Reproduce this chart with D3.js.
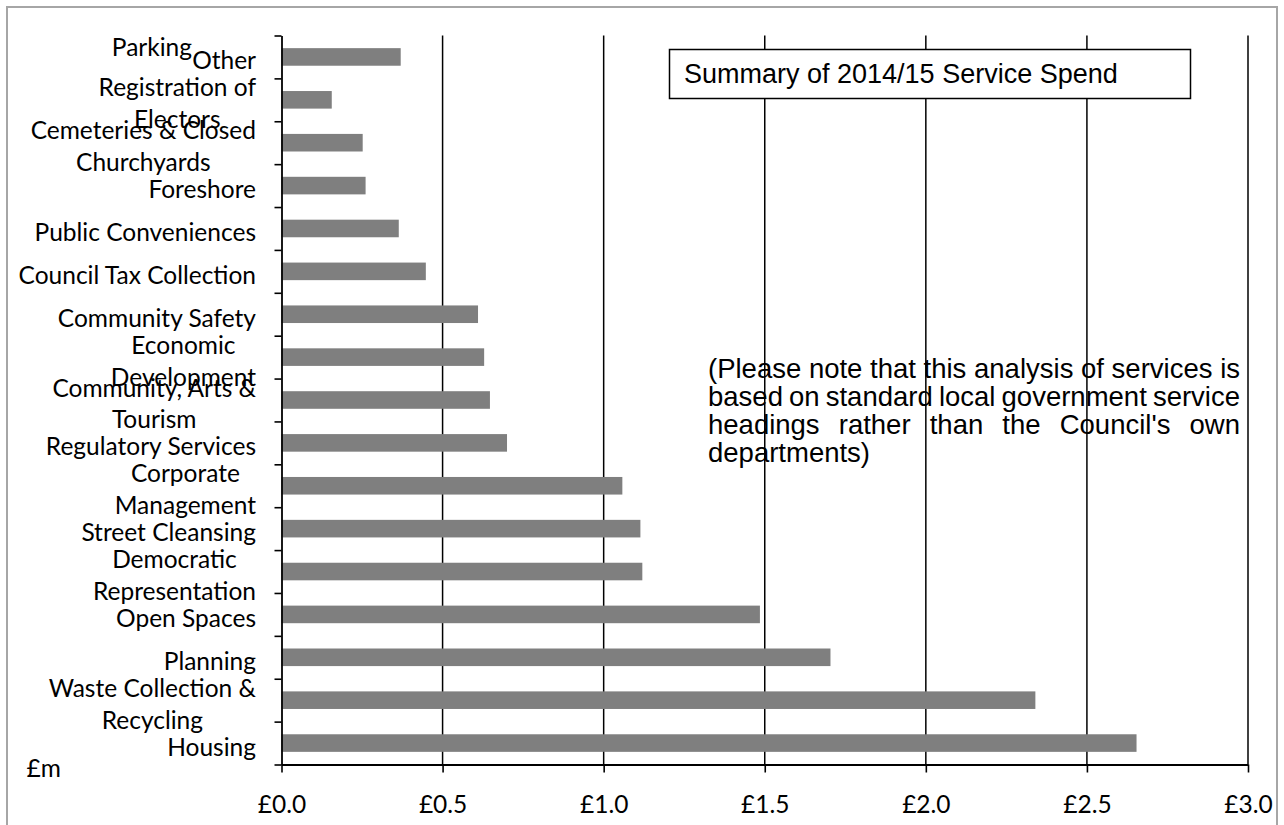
<!DOCTYPE html>
<html>
<head>
<meta charset="utf-8">
<script src="https://cdn.jsdelivr.net/npm/d3@7"></script>
<style>
  body { margin: 0; background: #fff; }
  svg { display: block; }
</style>
</head>
<body>
<svg id="chart" width="1284" height="825"></svg>
<script>
// Service headings, listed from the bottom of the chart upwards
const categories = [
  "Housing", "Waste Collection & Recycling", "Planning", "Open Spaces",
  "Democratic Representation", "Street Cleansing", "Corporate Management",
  "Regulatory Services", "Community, Arts & Tourism", "Economic Development",
  "Community Safety", "Council Tax Collection", "Public Conveniences",
  "Foreshore", "Cemeteries & Closed Churchyards", "Registration of Electors", "Other"
];
// How each heading wraps on the category axis
const categoryLines = [
  ["Housing"], ["Waste Collection &", "Recycling"], ["Planning"], ["Open Spaces"],
  ["Democratic", "Representation"], ["Street Cleansing"], ["Corporate", "Management"],
  ["Regulatory Services"], ["Community, Arts &", "Tourism"], ["Economic", "Development"],
  ["Community Safety"], ["Council Tax Collection"], ["Public Conveniences"],
  ["Foreshore"], ["Cemeteries & Closed", "Churchyards"], ["Registration of", "Electors"], ["Other"]
];
// Spend per service, £m
const spend = [
  2.654, 2.340, 1.704, 1.485, 1.120, 1.114, 1.058, 0.700, 0.647, 0.629,
  0.610, 0.448, 0.364, 0.261, 0.252, 0.156, 0.370
];
const xTicks = [0, 0.5, 1.0, 1.5, 2.0, 2.5, 3.0];
const xTickLabels = ["£0.0", "£0.5", "£1.0", "£1.5", "£2.0", "£2.5", "£3.0"];
const unitLabel = "£m";
const extraAxisLabel = "Parking";
const titleText = "Summary of 2014/15 Service Spend";
const noteLines = [
  "(Please note that this analysis of services is",
  "based on standard local government service",
  "headings rather than the Council's own",
  "departments)"
];

const svg = d3.select("#chart");
const plot = { left: 281.5, right: 1248, top: 35.5, bottom: 764.5 };
const labelFont = "Lato, 'Open Sans', sans-serif";
const labelSize = 24.5;
const textFont = "'Liberation Sans', Arial, sans-serif";

// Outer chart border
svg.append("rect")
  .attr("x", 7).attr("y", 7).attr("width", 1270).attr("height", 840)
  .attr("fill", "#fff").attr("stroke", "#a6a6a6").attr("stroke-width", 2);

const x = d3.scaleLinear().domain([0, 3]).range([plot.left, plot.right]);
const y = d3.scaleBand()
  .domain(categories.slice().reverse())
  .range([plot.top, plot.bottom])
  .paddingInner(0.59)
  .paddingOuter(0.295);

// Vertical gridlines
svg.append("g").selectAll("line")
  .data(xTicks.filter(d => d > 0))
  .join("line")
  .attr("x1", d => x(d)).attr("x2", d => x(d))
  .attr("y1", plot.top).attr("y2", plot.bottom)
  .attr("stroke", "#000").attr("stroke-width", 1.5);

// Bars
svg.append("g").selectAll("rect")
  .data(categories.map((c, i) => ({ c, v: spend[i] })))
  .join("rect")
  .attr("x", x(0))
  .attr("y", d => y(d.c))
  .attr("width", d => x(d.v) - x(0))
  .attr("height", y.bandwidth())
  .attr("fill", "#7f7f7f");

// Category axis: line with ticks on the band boundaries
const yEdges = d3.scaleLinear().domain([0, categories.length]).range([plot.top, plot.bottom]);
const yAxis = svg.append("g")
  .attr("transform", `translate(${plot.left},0)`)
  .call(d3.axisLeft(yEdges).tickValues(d3.range(categories.length + 1)).tickFormat("").tickSize(7).tickSizeOuter(0));
yAxis.select(".domain").attr("stroke", "#000").attr("stroke-width", 1.8);
yAxis.selectAll(".tick line").attr("stroke", "#000").attr("stroke-width", 1.6);

// Value axis
const xAxis = svg.append("g")
  .attr("transform", `translate(0,${plot.bottom})`)
  .call(d3.axisBottom(x).tickValues(xTicks).tickFormat((d, i) => xTickLabels[i]).tickSize(8).tickSizeOuter(0));
xAxis.select(".domain").attr("stroke", "#000").attr("stroke-width", 1.8);
xAxis.selectAll(".tick line").attr("stroke", "#000").attr("stroke-width", 1.6);
xAxis.selectAll(".tick text")
  .attr("y", 48.5).attr("dy", null)
  .attr("font-family", labelFont).attr("font-size", labelSize).attr("fill", "#000");

// Category labels: wrapped lines centred within a right-aligned block
const labelRight = plot.left - 25.5;
const lineGap = 31.8;
const labelGroup = svg.append("g")
  .attr("font-family", labelFont).attr("font-size", labelSize).attr("fill", "#000");
categories.forEach((c, i) => {
  const lines = categoryLines[i];
  const cy = y(c) + y.bandwidth() / 2;
  const base = cy + 12.5 - (lines.length - 1) * lineGap / 2;
  const texts = lines.map((ln, k) => labelGroup.append("text")
    .attr("y", base + k * lineGap).text(ln));
  const maxW = d3.max(texts, t => t.node().getComputedTextLength());
  texts.forEach(t => t.attr("x", labelRight - maxW / 2).attr("text-anchor", "middle"));
});
// Stray heading beside the top label
const topCy = y(categories[categories.length - 1]) + y.bandwidth() / 2;
labelGroup.append("text")
  .attr("x", labelRight - 64).attr("y", topCy - 1)
  .attr("text-anchor", "end").text(extraAxisLabel);

// Unit label
svg.append("text")
  .attr("x", 26.5).attr("y", 777)
  .attr("font-family", labelFont).attr("font-size", labelSize).attr("fill", "#000")
  .text(unitLabel);

// Title box
svg.append("rect")
  .attr("x", 669.5).attr("y", 49.5).attr("width", 521).attr("height", 49)
  .attr("fill", "#fff").attr("stroke", "#000").attr("stroke-width", 1.5);
svg.append("text")
  .attr("x", 684).attr("y", 83)
  .attr("font-family", textFont).attr("font-size", 27).attr("fill", "#000")
  .text(titleText);

// Justified note (last line left aligned)
const noteLeft = 708, noteRight = 1240, noteTop = 378, noteStep = 28;
const noteGroup = svg.append("g")
  .attr("font-family", textFont).attr("font-size", 27.5).attr("fill", "#000");
noteLines.forEach((ln, li) => {
  const yy = noteTop + li * noteStep;
  const words = ln.split(" ");
  const nodes = words.map(w => noteGroup.append("text").attr("y", yy).text(w));
  const widths = nodes.map(n => n.node().getComputedTextLength());
  const last = li === noteLines.length - 1;
  const spaceW = 7.6;
  const gap = last || words.length < 2
    ? spaceW
    : (noteRight - noteLeft - d3.sum(widths)) / (words.length - 1);
  let cx = noteLeft;
  nodes.forEach((n, k) => { n.attr("x", cx); cx += widths[k] + gap; });
});
</script>
</body>
</html>
